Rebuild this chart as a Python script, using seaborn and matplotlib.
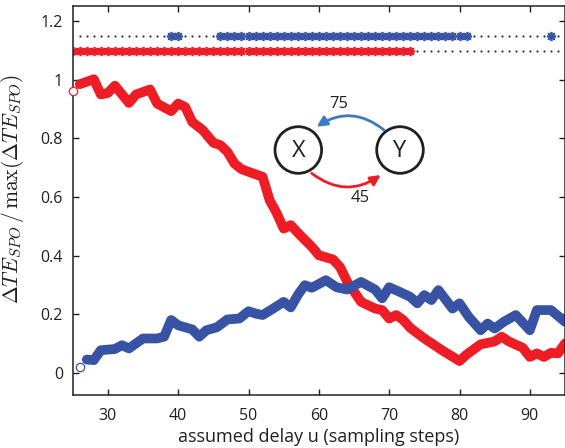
import matplotlib
matplotlib.use("Agg")
import matplotlib.pyplot as plt
import seaborn as sns
from matplotlib.patches import Circle, FancyArrowPatch

# --- data -------------------------------------------------------------
# normalised transfer entropy X->Y (red) and Y->X (blue) versus assumed delay
red_lag = [25, 26, 28, 29, 30, 31, 33, 34, 36, 37, 39, 40, 41, 42, 43.5, 45,
           46, 47, 48, 49, 50, 52, 53, 54, 55, 56, 57, 59, 60, 62, 63, 64, 66,
           68, 69, 70, 71, 72, 73, 75, 77.5, 80, 81, 83, 85, 86, 87, 89, 90,
           91, 92, 93, 94, 95]
red_te = [0.962, 0.985, 1.002, 0.950, 0.955, 0.980, 0.921, 0.950, 0.967,
          0.919, 0.893, 0.919, 0.907, 0.856, 0.828, 0.785, 0.777, 0.754,
          0.714, 0.695, 0.686, 0.669, 0.589, 0.545, 0.492, 0.504, 0.478,
          0.430, 0.401, 0.387, 0.361, 0.312, 0.242, 0.219, 0.214, 0.185,
          0.197, 0.180, 0.153, 0.117, 0.077, 0.040, 0.062, 0.097, 0.107,
          0.123, 0.107, 0.085, 0.054, 0.066, 0.054, 0.068, 0.066, 0.100]

blue_lag = [26, 27, 28, 29, 31, 32, 33, 35, 37, 38, 39, 40, 42, 43, 44, 45.5,
            47, 48.7, 50, 51, 52, 53.5, 55, 56, 57, 58, 59, 61, 62.5, 64, 66,
            68, 69, 70, 71.5, 73, 74, 75, 76, 77, 79, 80, 81.3, 83, 84, 85,
            86.3, 88, 90, 91, 93, 95]
blue_te = [0.020, 0.045, 0.043, 0.077, 0.081, 0.094, 0.083, 0.117, 0.117,
           0.123, 0.180, 0.162, 0.148, 0.123, 0.145, 0.155, 0.182, 0.185,
           0.210, 0.202, 0.197, 0.219, 0.242, 0.223, 0.265, 0.299, 0.290,
           0.316, 0.292, 0.284, 0.310, 0.284, 0.254, 0.292, 0.276, 0.259,
           0.237, 0.265, 0.248, 0.282, 0.219, 0.237, 0.191, 0.145, 0.168,
           0.151, 0.174, 0.197, 0.145, 0.214, 0.214, 0.174]

# delays tested for significance, and the ones that came out significant
red_tested = list(range(25, 95))
red_significant = list(range(25, 74))
blue_tested = list(range(26, 95))
blue_significant = [39, 40] + list(range(46, 82)) + [93]
red_row_y = 1.10
blue_row_y = 1.15

x_ticks = [30, 40, 50, 60, 70, 80, 90]
y_ticks = [0, 0.2, 0.4, 0.6, 0.8, 1.0, 1.2]
y_ticklabels = ["0", "0.2", "0.4", "0.6", "0.8", "1", "1.2"]

delay_xy = "45"
delay_yx = "75"

# --- style ------------------------------------------------------------
RED = "#ee1c25"
BLUE = "#3953a4"
ARROW_BLUE = "#3b7cc2"
INK = "#231f20"

sns.set_style("ticks")
plt.rcParams["font.family"] = ["Open Sans", "DejaVu Sans"]
plt.rcParams["mathtext.fontset"] = "cm"
plt.rcParams["lines.solid_capstyle"] = "round"
plt.rcParams["lines.solid_joinstyle"] = "round"

W, H = 565, 448
fig = plt.figure(figsize=(W / 100, H / 100), dpi=100)
ax = fig.add_axes([72.7 / W, 53 / H, 1 - 72.7 / W, (442 - 53) / H])

# significance rows: dots for every tested delay, asterisks where significant
asterisk = (8, 2, 0)
for tested, sig, yrow, col in [(red_tested, red_significant, red_row_y, RED),
                               (blue_tested, blue_significant, blue_row_y, BLUE)]:
    sns.lineplot(x=tested, y=[yrow] * len(tested), ax=ax, estimator=None,
                 linestyle="", marker="o", markersize=1.6, color="#333333",
                 markeredgewidth=0)
    sns.lineplot(x=sig, y=[yrow] * len(sig), ax=ax, estimator=None,
                 linestyle="", marker=asterisk, markersize=6.6,
                 markeredgewidth=1.25, color=col, markeredgecolor=col)

# the two transfer-entropy curves, first delay marked with an open circle
for lag, te, col in [(red_lag, red_te, RED), (blue_lag, blue_te, BLUE)]:
    n_before = len(ax.lines)
    sns.lineplot(x=lag[1:], y=te[1:], ax=ax, estimator=None, sort=False,
                 color=col, linewidth=7.0)
    for ln in ax.lines[n_before:]:
        ln.set_solid_capstyle("round")
        ln.set_solid_joinstyle("round")
    n_before = len(ax.lines)
    sns.lineplot(x=lag[:1], y=te[:1], ax=ax, estimator=None, linestyle="",
                 marker="o", markersize=6, markerfacecolor="white",
                 markeredgecolor=col, markeredgewidth=0.9, zorder=5)
    for ln in ax.lines[n_before:]:
        ln.set_clip_on(False)

ax.set_xlim(25, 95)
ax.set_ylim(-0.076, 1.252)
ax.set_xticks(x_ticks)
ax.set_xticklabels([str(t) for t in x_ticks])
ax.set_yticks(y_ticks)
ax.set_yticklabels(y_ticklabels)
ax.tick_params(direction="in", length=4.5, width=1.0, labelsize=11.5,
               top=True, right=True, colors=INK)
ax.tick_params(axis="x", pad=9)
ax.tick_params(axis="y", pad=7)
for side in ax.spines.values():
    side.set_visible(True)
    side.set_linewidth(1.1)
    side.set_color(INK)

ax.set_xlabel("assumed delay u (sampling steps)", fontsize=13, color=INK,
              labelpad=3)
ax.set_ylabel(r"$\Delta TE_{SPO}\,/\,\max(\Delta TE_{SPO})$", fontsize=15.5,
              color=INK, labelpad=5)
ax.yaxis.set_label_coords(-0.095, 0.53)

# coupling diagram X <-> Y drawn on a pixel-space overlay
ov = fig.add_axes([0, 0, 1, 1])
ov.set_xlim(0, W)
ov.set_ylim(H, 0)
ov.axis("off")
ov.patch.set_alpha(0)

for cx, name in [(298.3, "X"), (400.0, "Y")]:
    ov.add_patch(Circle((cx, 150), 23.3, fill=False, lw=2.0, ec=INK))
    ov.text(cx, 151, name, ha="center", va="center", fontsize=17, color=INK)

ov.add_patch(FancyArrowPatch((384, 130), (316.7, 126.7),
                             connectionstyle="arc3,rad=0.36",
                             arrowstyle="-|>", mutation_scale=15, lw=2.0,
                             color=ARROW_BLUE, shrinkA=0, shrinkB=0))
ov.add_patch(FancyArrowPatch((311.7, 173.3), (380.7, 175),
                             connectionstyle="arc3,rad=0.36",
                             arrowstyle="-|>", mutation_scale=15, lw=2.0,
                             color=RED, shrinkA=0, shrinkB=0))
ov.text(338.3, 104, delay_yx, ha="center", va="center", fontsize=12, color=INK)
ov.text(360, 198.3, delay_xy, ha="center", va="center", fontsize=12, color=INK)

fig.savefig("out.png", dpi=100)
